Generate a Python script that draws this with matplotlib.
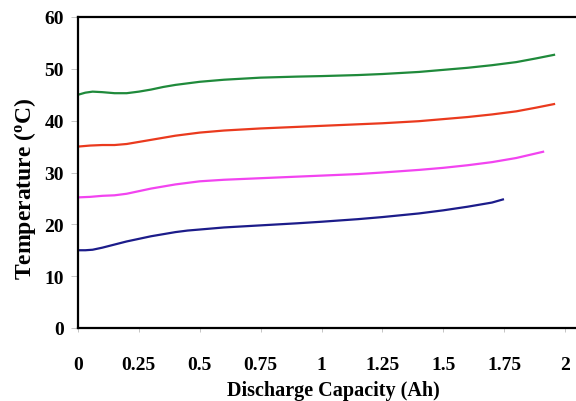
import matplotlib
matplotlib.use("Agg")
import matplotlib.pyplot as plt

plt.rcParams['font.family'] = ['Liberation Serif', 'DejaVu Serif']
plt.rcParams['font.weight'] = 'bold'
plt.rcParams['mathtext.fontset'] = 'custom'
plt.rcParams['mathtext.rm'] = 'Liberation Serif:bold'
plt.rcParams['mathtext.bf'] = 'Liberation Serif:bold'
plt.rcParams['mathtext.it'] = 'Liberation Serif:bold'

x_green = [0.0, 0.03, 0.06, 0.1, 0.15, 0.2, 0.25, 0.3, 0.35, 0.4, 0.45, 0.5, 0.6, 0.75, 0.9, 1.0, 1.15, 1.25, 1.4, 1.5, 1.6, 1.7, 1.8, 1.88, 1.955]
t_green = [45.0, 45.4, 45.6, 45.5, 45.3, 45.3, 45.6, 46.0, 46.5, 46.9, 47.2, 47.5, 47.9, 48.3, 48.5, 48.6, 48.8, 49.0, 49.4, 49.8, 50.2, 50.7, 51.3, 52.0, 52.7]

x_red = [0.0, 0.05, 0.1, 0.15, 0.2, 0.25, 0.3, 0.35, 0.4, 0.45, 0.5, 0.6, 0.75, 0.9, 1.0, 1.15, 1.25, 1.4, 1.5, 1.6, 1.7, 1.8, 1.88, 1.955]
t_red = [35.0, 35.2, 35.3, 35.3, 35.5, 35.9, 36.3, 36.7, 37.1, 37.4, 37.7, 38.1, 38.5, 38.8, 39.0, 39.3, 39.5, 39.9, 40.3, 40.7, 41.2, 41.8, 42.5, 43.2]

x_mag = [0.0, 0.05, 0.1, 0.15, 0.2, 0.25, 0.3, 0.35, 0.4, 0.45, 0.5, 0.6, 0.75, 0.9, 1.0, 1.15, 1.25, 1.4, 1.5, 1.6, 1.7, 1.8, 1.91]
t_mag = [25.2, 25.3, 25.5, 25.6, 25.9, 26.4, 26.9, 27.3, 27.7, 28.0, 28.3, 28.6, 28.9, 29.2, 29.4, 29.7, 30.0, 30.5, 30.9, 31.4, 32.0, 32.8, 34.0]

x_blue = [0.0, 0.03, 0.06, 0.1, 0.15, 0.2, 0.25, 0.3, 0.35, 0.4, 0.45, 0.5, 0.6, 0.75, 0.9, 1.0, 1.15, 1.25, 1.4, 1.5, 1.6, 1.7, 1.745]
t_blue = [15.0, 15.0, 15.1, 15.5, 16.1, 16.7, 17.2, 17.7, 18.1, 18.5, 18.8, 19.0, 19.4, 19.8, 20.2, 20.5, 21.0, 21.4, 22.1, 22.7, 23.4, 24.2, 24.8]

x_ticks = [0, 0.25, 0.5, 0.75, 1, 1.25, 1.5, 1.75, 2]
x_ticklabels = ['0', '0.25', '0.5', '0.75', '1', '1.25', '1.5', '1.75', '2']
y_ticks = [0, 10, 20, 30, 40, 50, 60]

fig = plt.figure(figsize=(5.76, 4.02), dpi=100)
ax = fig.add_axes([78/576, 73/402, (576-78)/576, 311/402])

ax.plot(x_green, t_green, color='#1f8a3b', lw=1.6)
ax.plot(x_red, t_red, color='#ea3a1e', lw=1.6)
ax.plot(x_mag, t_mag, color='#f244f0', lw=1.6)
ax.plot(x_blue, t_blue, color='#1c1c8a', lw=1.6)

ax.set_xlim(0, (576-78)/243.5)
ax.set_ylim(0, 60)
ax.set_xticks(x_ticks)
ax.set_xticklabels(x_ticklabels)
ax.set_yticks(y_ticks)

for s in ['left', 'bottom', 'top']:
    ax.spines[s].set_linewidth(1.6)
ax.spines['right'].set_visible(False)

ax.tick_params(axis='x', direction='out', length=3, width=0.6, color='#bbbbbb', pad=17, labelsize=14)
ax.tick_params(axis='y', direction='out', length=5, width=0.6, color='#bbbbbb', pad=5, labelsize=14)

fig.text(333/576, (402 - 391)/402, 'Discharge Capacity (Ah)', fontsize=14.5,
         fontweight='bold', ha='center', va='center')
fig.text(25/576, (402 - 189)/402, 'Temperature ($^{o}$C)', fontsize=17,
         fontweight='bold', ha='center', va='center', rotation=90)

fig.savefig('out.png', dpi=100)
